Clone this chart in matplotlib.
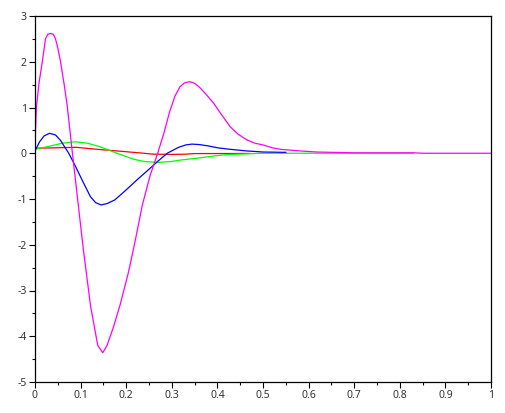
import numpy as np
import matplotlib
matplotlib.use("Agg")
import matplotlib.pyplot as plt
from matplotlib.ticker import MultipleLocator

plt.rcParams['font.family'] = ['Noto Sans', 'DejaVu Sans']
plt.rcParams['axes.unicode_minus'] = False

# red curve
red_x = [0.0, 0.05, 0.09, 0.143, 0.18, 0.216, 0.26, 0.30, 0.33, 0.35, 0.47]
red_y = [0.11, 0.12, 0.13, 0.08, 0.05, 0.02, -0.02, -0.025, -0.02, -0.007, -0.005]

# green curve
green_x = [0.0, 0.03, 0.06, 0.089, 0.115, 0.143, 0.18, 0.216, 0.24, 0.268, 0.30,
           0.318, 0.362, 0.392, 0.42, 0.472, 0.5, 0.83]
green_y = [0.09, 0.15, 0.22, 0.25, 0.22, 0.14, 0.0, -0.13, -0.18, -0.2, -0.18,
           -0.15, -0.1, -0.06, -0.03, -0.01, 0.0, 0.0]

# blue curve
blue_x = [0.0, 0.01, 0.02, 0.032, 0.045, 0.056, 0.074, 0.089, 0.105, 0.1216, 0.133,
          0.145, 0.158, 0.175, 0.2, 0.225, 0.25, 0.27, 0.29, 0.315, 0.33, 0.344, 0.36,
          0.38, 0.40, 0.428, 0.465, 0.5, 0.55]
blue_y = [0.05, 0.25, 0.38, 0.436, 0.40, 0.28, 0.0, -0.29, -0.62, -0.95, -1.08,
          -1.13, -1.1, -1.02, -0.8, -0.57, -0.35, -0.17, 0.0, 0.13, 0.18, 0.2, 0.19,
          0.16, 0.12, 0.086, 0.05, 0.027, 0.02]

# magenta curve
mag_x = [0.0, 0.003, 0.009, 0.016, 0.023, 0.028, 0.034, 0.04, 0.045, 0.05, 0.056,
         0.064, 0.0705, 0.0815, 0.094, 0.106, 0.122, 0.1376, 0.1486, 0.158, 0.172,
         0.187, 0.205, 0.22, 0.235, 0.252, 0.269, 0.283, 0.295, 0.307, 0.318, 0.328,
         0.339, 0.35, 0.36, 0.375, 0.392, 0.41, 0.428, 0.445, 0.465, 0.482, 0.501,
         0.52, 0.538, 0.574, 0.618, 0.7, 0.83, 0.85, 1.0]
mag_y = [0.2, 1.0, 1.55, 2.0, 2.5, 2.6, 2.62, 2.6, 2.5, 2.3, 2.0,
         1.5, 1.05, 0.05, -1.05, -2.1, -3.35, -4.2, -4.36, -4.2, -3.8,
         -3.3, -2.6, -1.9, -1.15, -0.5, 0.0, 0.45, 0.9, 1.25, 1.455, 1.54,
         1.564, 1.53, 1.45, 1.29, 1.09, 0.83, 0.58, 0.42, 0.29, 0.22, 0.18,
         0.12, 0.086, 0.056, 0.027, 0.01, 0.01, 0.0, 0.0]

fig = plt.figure(figsize=(5.06, 4.13), dpi=100)
ax = fig.add_axes([35 / 506, 31 / 413, 456 / 506, 366 / 413])

ax.plot(red_x, red_y, color='#ff0000', lw=0.9)
ax.plot(green_x, green_y, color='#00ff00', lw=0.9)
ax.plot(blue_x, blue_y, color='#0000ff', lw=0.9)
ax.plot(mag_x, mag_y, color='#ff00ff', lw=0.9)

ax.set_xlim(0, 1)
ax.set_ylim(-5, 3)
ax.xaxis.set_minor_locator(MultipleLocator(0.05))
ax.yaxis.set_minor_locator(MultipleLocator(0.5))
ax.set_xticks(np.arange(0, 1.01, 0.1))
ax.set_xticklabels(['0', '0.1', '0.2', '0.3', '0.4', '0.5', '0.6', '0.7', '0.8', '0.9', '1'])
ax.set_yticks(range(-5, 4))
ax.set_yticklabels([str(v) for v in range(-5, 4)])

ax.tick_params(which='major', direction='out', length=4, width=0.8, colors='black',
               labelcolor='#333333', labelsize=7.5, pad=2)
ax.tick_params(which='minor', direction='out', length=2, width=0.8, colors='black')
for s in ax.spines.values():
    s.set_linewidth(0.9)
    s.set_color('black')

fig.savefig('out.png', dpi=100)
